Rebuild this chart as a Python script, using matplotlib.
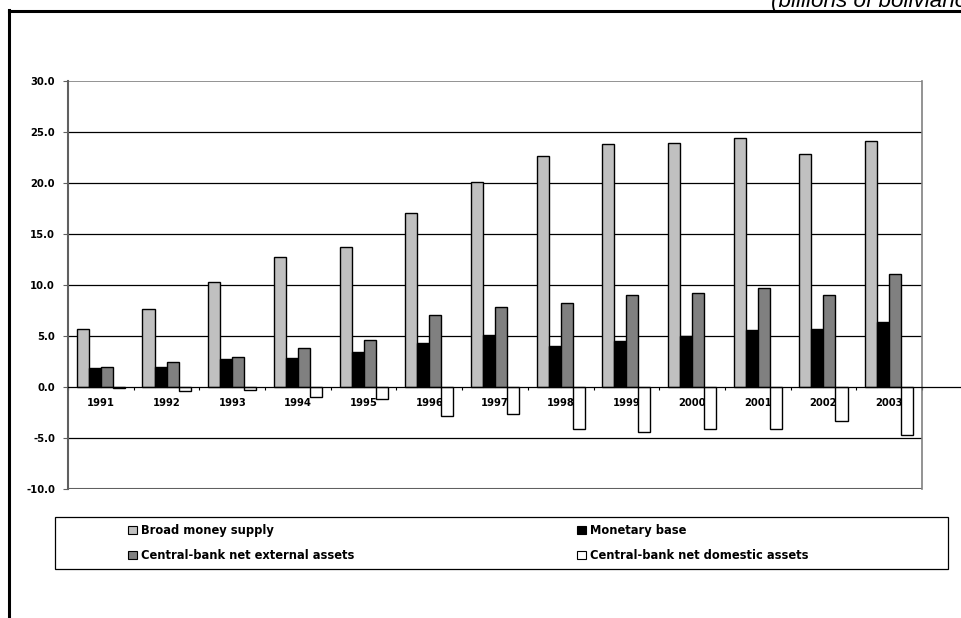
import matplotlib
matplotlib.use("Agg")
import matplotlib.pyplot as plt
from matplotlib.patches import Patch, Rectangle
from matplotlib.lines import Line2D
import numpy as np

years = ["1991", "1992", "1993", "1994", "1995", "1996", "1997",
         "1998", "1999", "2000", "2001", "2002", "2003"]
broad_money = [5.7, 7.65, 10.25, 12.7, 13.7, 17.1, 20.05, 22.6, 23.85, 23.9, 24.45, 22.85, 24.1]
monetary_base = [1.85, 2.0, 2.7, 2.8, 3.45, 4.3, 5.1, 4.05, 4.5, 5.0, 5.6, 5.65, 6.4]
net_external = [2.0, 2.45, 2.95, 3.8, 4.6, 7.05, 7.8, 8.2, 9.0, 9.2, 9.7, 9.0, 11.1]
net_domestic = [-0.1, -0.4, -0.3, -1.0, -1.15, -2.8, -2.65, -4.15, -4.4, -4.15, -4.15, -3.35, -4.75]

labels = ["Broad money supply", "Monetary base",
          "Central-bank net external assets", "Central-bank net domestic assets"]
colors = ["#c0c0c0", "#000000", "#808080", "#ffffff"]
series = [broad_money, monetary_base, net_external, net_domestic]

W, H = 961, 618
fig = plt.figure(figsize=(W / 100, H / 100), dpi=100)
ax = fig.add_axes([68 / W, 1 - 489 / H, (922 - 68) / W, (489 - 81) / H])

x = np.arange(len(years))
w = 0.183
for i, (vals, c) in enumerate(zip(series, colors)):
    ax.bar(x + (i - 1.5) * w, vals, w, color=c, edgecolor="black", linewidth=1.0, zorder=3)

ax.set_xlim(-0.5, len(years) - 0.5)
ax.set_ylim(-10, 30)
ax.set_yticks(np.arange(-10, 31, 5))
ax.set_yticklabels(["%.1f" % v for v in np.arange(-10, 31, 5)])

# gridlines
for v in [-5, 5, 10, 15, 20, 25]:
    ax.axhline(v, color="black", lw=0.9, zorder=1)
ax.axhline(30, color="#808080", lw=1.2, zorder=1)
ax.axhline(-10, color="#606060", lw=1.5, zorder=1)

# x axis at zero, extended to the right edge
ax.spines["bottom"].set_position(("data", 0))
ax.spines["bottom"].set_color("black")
ax.spines["bottom"].set_linewidth(0.9)
ax.spines["bottom"].set_zorder(4)
ax.plot([len(years) - 0.5, len(years) - 0.5 + (W - 922) / ((922 - 68) / len(years))], [0, 0],
        color="black", lw=0.9, clip_on=False)
ax.spines["top"].set_visible(False)
ax.spines["right"].set_color("#808080")
ax.spines["right"].set_linewidth(1.2)
ax.spines["left"].set_color("#606060")
ax.spines["left"].set_linewidth(1.5)

ax.set_xticks(np.arange(-0.5, len(years), 1.0))
ax.set_xticklabels([])
ax.set_xticks(x, minor=True)
ax.set_xticklabels(years, minor=True)
ax.tick_params(axis="x", which="major", direction="out", length=2.5, width=0.8, color="black")
ax.tick_params(axis="x", which="minor", length=0, pad=8)
ax.tick_params(axis="y", direction="out", length=3.6, width=0.8, color="#606060", pad=5.8)
for t in ax.get_xticklabels(minor=True) + ax.get_yticklabels():
    t.set_fontsize(7.2)
    t.set_fontweight("bold")

# legend box and entries
fig.add_artist(Rectangle((55 / W, 1 - 569 / H), 893 / W, 52 / H, transform=fig.transFigure,
                         facecolor="white", edgecolor="black", lw=0.9))
handles = [Patch(facecolor=c, edgecolor="black", linewidth=0.8) for c in colors]
for idx, xpos in [((0, 2), 128), ((1, 3), 577)]:
    fig.legend([handles[k] for k in idx], [labels[k] for k in idx], loc="center left",
               bbox_to_anchor=(xpos / W, 1 - 543 / H), frameon=False, borderpad=0,
               borderaxespad=0, handlelength=0.8, handleheight=0.8, handletextpad=0.35,
               labelspacing=1.05, prop={"size": 8.3, "weight": "bold"})

# outer frame and unit note (cut off by the top/right edge as in the source)
fig.add_artist(Line2D([8.5 / W, 8.5 / W], [0, 1 - 10 / H], color="black", lw=2.2,
                      transform=fig.transFigure))
fig.add_artist(Line2D([8.5 / W, 1], [1 - 10.5 / H, 1 - 10.5 / H], color="black", lw=2.2,
                      transform=fig.transFigure))
fig.text(771 / W, 1 - 7 / H, "(billions of bolivianos)", fontsize=16.2, style="italic",
         family="Liberation Sans", va="baseline", ha="left")

fig.savefig("out.png", dpi=100)
